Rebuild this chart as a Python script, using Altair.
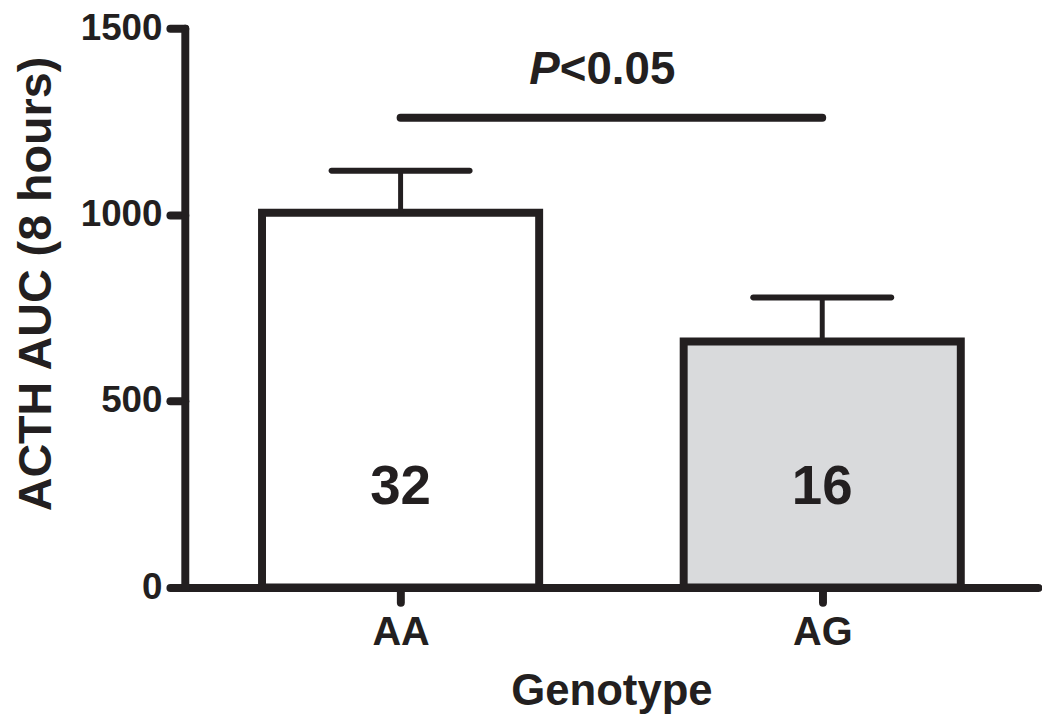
import altair as alt
import pandas as pd

# ---- data ----
genotypes = ["AA", "AG"]
positions = [1, 2]
means = [1005, 660]
upper = [1118, 778]          # mean + SEM
counts = ["32", "16"]
fills = ["#ffffff", "#d9dadc"]

y_ticks = [0, 500, 1000, 1500]
sig_y = 1260                 # significance bar level
sig_text_y = 1351            # baseline of the P<0.05 label
count_label_y = 225          # baseline of the n labels

INK = "#231f20"
FONT = "Liberation Sans"

df = pd.DataFrame({
    "genotype": genotypes,
    "pos": positions,
    "mean": means,
    "upper": upper,
    "n": counts,
    "fill": fills,
})

xscale = alt.Scale(domain=[0.5, 2.5], nice=False, zero=False)
yscale = alt.Scale(domain=[0, 1500], nice=False)

x_axis = alt.Axis(
    values=positions,
    labelExpr="datum.value == 1 ? 'AA' : 'AG'",
    title="Genotype",
    titleFontSize=44, titleFont=FONT, titleFontWeight="bold", titleColor=INK,
    titleBaseline="alphabetic", titleY=118,
    labelFontSize=40, labelFont=FONT, labelFontWeight="bold", labelColor=INK,
    labelBaseline="alphabetic", labelPadding=42,
    tickSize=15, tickWidth=8, tickColor=INK, tickCap="round",
    domainWidth=8, domainColor=INK, domainCap="round",
    grid=False,
)
y_axis = alt.Axis(
    values=y_ticks, format="d",
    title="ACTH AUC (8 hours)",
    titleFontSize=47, titleFont=FONT, titleFontWeight="bold", titleColor=INK,
    titleAngle=270, titleBaseline="alphabetic", titleAlign="center",
    titleX=-135, titleY=257,
    labelFontSize=37, labelFont=FONT, labelFontWeight="bold", labelColor=INK,
    labelPadding=8,
    tickSize=15, tickWidth=8, tickColor=INK, tickCap="round",
    domainWidth=8, domainColor=INK, domainCap="round",
    grid=False,
)


def X(field):
    return alt.X(field, type="quantitative", scale=xscale, axis=x_axis)


def Y(field):
    return alt.Y(field, type="quantitative", scale=yscale, axis=y_axis)


base = alt.Chart(df)

bars = base.mark_bar(size=279, stroke=INK, strokeWidth=8, orient="vertical").encode(
    x=X("pos"),
    y=Y("mean"),
    fill=alt.Fill("fill:N", scale=None),
)

stems = base.mark_rule(color=INK, strokeWidth=5).encode(
    x=X("pos"),
    y=Y("mean"),
    y2="upper:Q",
)

caps = base.mark_tick(color=INK, size=145, thickness=6, orient="horizontal",
                      cornerRadius=3, opacity=1).encode(
    x=X("pos"),
    y=Y("upper"),
)

labels = base.mark_text(font=FONT, fontWeight="bold", fontSize=55, color=INK,
                        baseline="alphabetic", align="center").encode(
    x=X("pos"),
    y=alt.datum(count_label_y, type="quantitative", scale=yscale, axis=y_axis),
    text="n:N",
)

sig_df = pd.DataFrame({"x1": [positions[0]], "x2": [positions[1]], "y": [sig_y],
                       "mid": [(positions[0] + positions[1]) / 2], "ty": [sig_text_y]})
sig_line = alt.Chart(sig_df).mark_rule(color=INK, strokeWidth=8, strokeCap="round").encode(
    x=X("x1"),
    x2="x2:Q",
    y=Y("y"),
)
p_letter = alt.Chart(sig_df).mark_text(text="P", font=FONT, fontWeight="bold", fontStyle="italic",
                                       fontSize=46, color=INK, align="right",
                                       baseline="alphabetic", dx=-52).encode(
    x=X("mid"),
    y=Y("ty"),
)
p_rest = alt.Chart(sig_df).mark_text(text="<0.05", font=FONT, fontWeight="bold",
                                     fontSize=46, color=INK, align="left",
                                     baseline="alphabetic", dx=-52).encode(
    x=X("mid"),
    y=Y("ty"),
)

chart = alt.layer(bars, stems, caps, labels, sig_line, p_letter, p_rest).properties(
    width=859, height=563,
    autosize=alt.AutoSizeParams(type="none"),
    padding={"left": 178, "top": 18, "right": 4, "bottom": 126},
    background="white",
).configure_view(stroke=None)

chart.save("out.html", embed_options={"renderer": "svg", "actions": False})
